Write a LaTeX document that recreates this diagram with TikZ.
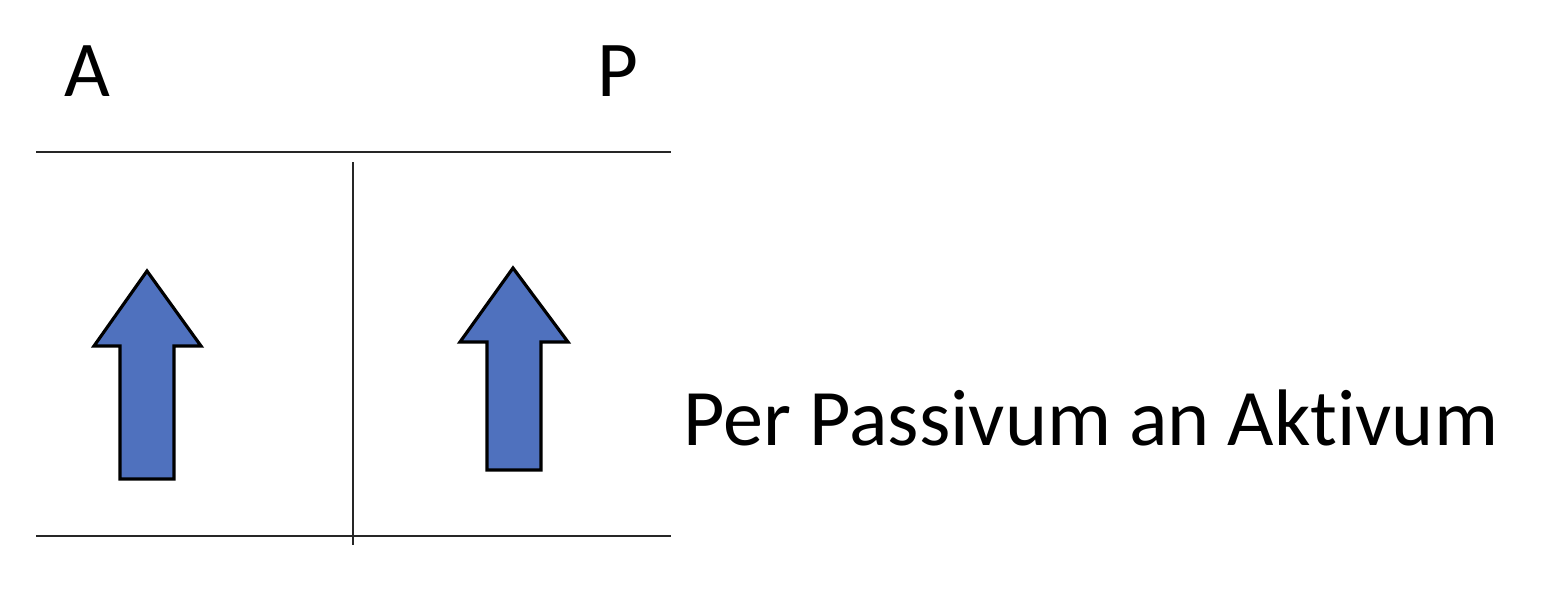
\documentclass[tikz,border=0pt]{standalone}
\usepackage{fontspec}
\setmainfont[RawFeature={-liga;-dlig}]{Carlito}
\definecolor{arrowblue}{HTML}{4F71BE}
\begin{document}
\begin{tikzpicture}[x=0.01cm,y=-0.01cm,
  rule/.style={line width=0.8pt,draw=black!85},
  uparrow/.style={fill=arrowblue,draw=black,line width=0.9pt,line join=miter},
  lbl/.style={font=\fontsize{22.5}{27}\selectfont,inner sep=0pt,anchor=base west},
  biglbl/.style={font=\fontsize{22.8}{28}\selectfont,inner sep=0pt,anchor=base west}]
\useasboundingbox (0,0) rectangle (1560,600);
% rules
\coordinate (tl) at (36,152); \coordinate (tr) at (671,152);
\coordinate (bl) at (36,536); \coordinate (br) at (671,536);
\coordinate (vt) at (353,162); \coordinate (vb) at (353,545);
\draw[rule] (tl) -- (tr);
\draw[rule] (bl) -- (br);
\draw[rule] (vt) -- (vb);
% arrows
\draw[uparrow] (147,271) -- (201,346) -- (174,346) -- (174,479) -- (120,479) -- (120,346) -- (94,346) -- cycle;
\draw[uparrow] (513,268) -- (568,342) -- (541,342) -- (541,470) -- (487,470) -- (487,342) -- (460,342) -- cycle;
% labels
\node[lbl] (A) at (64,96) {A};
\node[lbl] (P) at (597,96) {P};
\node[biglbl] (txt) at (683,445) {Per Passivum an Aktivum};
\end{tikzpicture}
\end{document}
